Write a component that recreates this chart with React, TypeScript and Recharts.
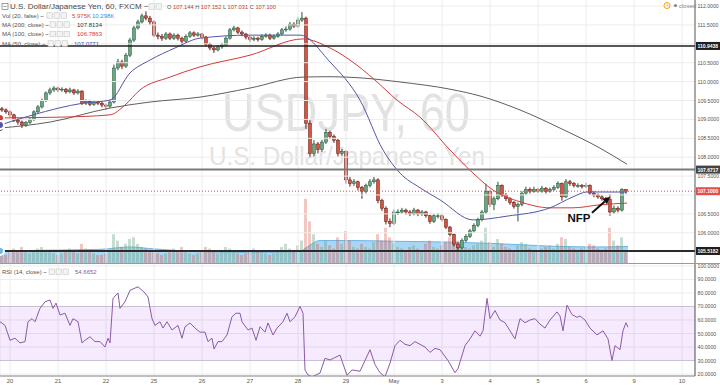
import React from 'react';
import {
  ComposedChart, LineChart, Bar, Line, Area, XAxis, YAxis, CartesianGrid,
  ReferenceLine, ReferenceArea, ReferenceDot, Cell,
} from 'recharts';

const FONT = '"Liberation Sans", Arial, sans-serif';

// ---- time axis (hours from chart start; one day = 24h) ----
const dayTicks = [5, 29, 53, 77, 101, 125, 149, 173, 197, 221, 245, 269, 293, 317, 341];
const dayLabels = ['20', '21', '22', '25', '26', '27', '28', '29', 'May', '3', '4', '5', '6', '9', '10'];

// ---- price candles (2-hour aggregation) ----
const firstOpen = 109.28;
const closes = [
  109.25, 109.20, 109.12, 108.98, 108.93, 108.85, 108.92, 109.00, 109.20, 109.33,
  109.50, 109.70, 109.78, 109.83, 109.78, 109.80, 109.73, 109.78, 109.70, 109.75,
  109.43, 109.48, 109.40, 109.46, 109.43, 109.38, 109.35, 109.46, 110.36, 110.52,
  110.41, 110.70, 111.10, 111.42, 111.58, 111.74, 111.68, 111.58, 111.23, 111.20,
  111.15, 111.26, 111.15, 111.23, 111.15, 111.07, 111.20, 111.29, 111.23, 111.26,
  111.18, 110.99, 110.89, 110.84, 110.92, 110.97, 111.15, 111.37, 111.42, 111.31,
  111.26, 111.18, 111.12, 111.15, 111.12, 111.20, 111.23, 111.15, 111.20, 111.26,
  111.37, 111.39, 111.52, 111.47, 111.63, 111.68, 108.90, 108.10, 108.35, 108.20,
  108.40, 108.65, 108.55, 108.45, 108.10, 108.15, 107.40, 107.30, 107.35, 107.20,
  107.10, 107.25, 107.35, 107.40, 106.85, 106.65, 106.30, 106.25, 106.55, 106.55,
  106.60, 106.55, 106.50, 106.60, 106.50, 106.55, 106.45, 106.30, 106.45, 106.45,
  106.35, 106.15, 105.95, 105.70, 105.60, 105.80, 105.90, 106.05, 106.20, 106.35,
  106.55, 107.10, 106.75, 106.90, 107.25, 107.00, 106.90, 106.80, 106.70, 106.75,
  107.05, 107.15, 107.10, 107.15, 107.10, 107.18, 107.10, 107.15, 107.20, 107.30,
  106.95, 107.35, 107.30, 107.25, 107.25, 107.22, 107.25, 107.05, 107.00, 106.95,
  106.90, 106.88, 106.55, 106.65, 106.60, 107.144, 107.10,
];
const highs = [
  109.33, 109.29, 109.24, 109.15, 109.03, 108.97, 108.96, 109.05, 109.24, 109.38,
  109.55, 109.74, 109.84, 109.88, 109.87, 109.85, 109.83, 109.84, 109.81, 109.80,
  109.77, 109.53, 109.52, 109.50, 109.49, 109.46, 109.42, 109.52, 110.45, 110.60,
  110.58, 110.76, 111.16, 111.48, 111.64, 111.80, 111.86, 111.74, 111.62, 111.30,
  111.26, 111.31, 111.30, 111.28, 111.27, 111.19, 111.25, 111.34, 111.33, 111.31,
  111.29, 111.21, 111.03, 110.93, 110.97, 111.03, 111.20, 111.42, 111.48, 111.45,
  111.35, 111.29, 111.22, 111.20, 111.19, 111.25, 111.28, 111.27, 111.25, 111.31,
  111.42, 111.46, 111.58, 111.57, 111.70, 111.84, 111.72, 108.98, 108.45, 108.40,
  108.46, 108.75, 108.70, 108.60, 108.48, 108.22, 108.18, 107.48, 107.42, 107.38,
  107.24, 107.30, 107.42, 107.48, 107.44, 106.90, 106.70, 106.38, 106.62, 106.62,
  106.66, 106.64, 106.60, 106.66, 106.63, 106.60, 106.58, 106.48, 106.50, 106.52,
  106.49, 106.38, 106.18, 105.98, 105.74, 105.85, 105.96, 106.10, 106.25, 106.40,
  106.60, 107.30, 107.14, 106.96, 107.35, 107.28, 107.05, 106.94, 106.84, 106.80,
  107.10, 107.22, 107.20, 107.22, 107.19, 107.24, 107.21, 107.20, 107.26, 107.36,
  107.33, 107.42, 107.40, 107.34, 107.31, 107.29, 107.32, 107.28, 107.10, 107.04,
  107.00, 106.95, 107.02, 106.72, 106.70, 107.18, 107.152,
];
const lows = [
  109.20, 109.15, 109.06, 108.93, 108.86, 108.77, 108.80, 108.88, 108.96, 109.16,
  109.29, 109.46, 109.65, 109.73, 109.72, 109.73, 109.68, 109.69, 109.65, 109.66,
  109.38, 109.38, 109.35, 109.36, 109.38, 109.32, 109.25, 109.31, 109.42, 110.30,
  110.33, 110.36, 110.65, 111.05, 111.38, 111.54, 111.62, 111.50, 111.18, 111.12,
  111.08, 111.10, 111.10, 111.10, 111.09, 110.97, 111.03, 111.16, 111.18, 111.19,
  111.12, 110.93, 110.83, 110.76, 110.80, 110.87, 110.93, 111.11, 111.33, 111.26,
  111.20, 111.12, 111.05, 111.07, 111.06, 111.08, 111.16, 111.10, 111.11, 111.16,
  111.22, 111.32, 111.35, 111.42, 111.43, 111.58, 108.75, 107.98, 108.02, 108.10,
  108.14, 108.35, 108.48, 108.38, 108.02, 108.04, 107.30, 107.22, 107.24, 107.12,
  106.90, 107.04, 107.20, 107.30, 106.78, 106.58, 106.22, 106.15, 106.20, 106.47,
  106.50, 106.48, 106.44, 106.46, 106.44, 106.45, 106.40, 106.24, 106.26, 106.38,
  106.30, 106.10, 105.90, 105.64, 105.52, 105.56, 105.75, 105.86, 106.00, 106.15,
  106.30, 106.50, 106.68, 106.60, 106.86, 106.95, 106.84, 106.74, 106.64, 106.30,
  106.70, 107.00, 107.04, 107.06, 107.05, 107.06, 107.04, 107.06, 107.11, 107.16,
  106.85, 106.92, 107.24, 107.20, 107.19, 107.17, 107.18, 107.00, 106.94, 106.90,
  106.85, 106.82, 106.45, 106.50, 106.54, 106.56, 107.031,
];
// volume (K)
const volumes = [
  6, 5, 7, 9, 8, 10, 7, 6, 8, 9,
  10, 8, 7, 6, 5, 6, 8, 9, 7, 6,
  12, 9, 7, 6, 5, 5, 6, 8, 18, 14,
  10, 12, 15, 16, 12, 10, 9, 7, 8, 6,
  5, 6, 7, 9, 8, 10, 7, 6, 5, 6,
  7, 10, 9, 8, 6, 7, 10, 9, 8, 6,
  5, 6, 7, 9, 8, 7, 6, 5, 6, 8,
  10, 12, 9, 8, 11, 14, 40, 26, 18, 12,
  10, 14, 11, 9, 16, 12, 20, 14, 10, 9,
  12, 10, 9, 13, 18, 14, 22, 16, 12, 10,
  9, 8, 10, 11, 9, 8, 12, 14, 10, 9,
  11, 13, 16, 15, 14, 12, 10, 9, 11, 12,
  14, 22, 13, 10, 15, 12, 10, 9, 8, 11,
  13, 12, 9, 8, 7, 9, 10, 11, 9, 12,
  16, 15, 10, 9, 8, 9, 10, 12, 11, 9,
  8, 9, 22, 14, 11, 16, 8,
];
const volMaT = [0, 25, 50, 65, 75, 100, 125, 150, 152.5, 160, 175, 200, 225, 250, 275, 300, 314];
const volMaV = [7.5, 8, 8.5, 10, 9, 7, 6.5, 7, 9, 14, 14, 13.5, 13, 12, 10.5, 10, 10.3];

// ---- moving averages ----
const ma200T = [0, 25, 55, 75, 100, 125, 151.5, 165, 180, 200, 225, 240, 260, 280, 300, 313.5];
const ma200V = [108.77, 108.93, 109.30, 109.46, 109.59, 109.83, 110.12, 110.13, 110.10, 109.99, 109.80, 109.62, 109.25, 108.77, 108.24, 107.8134];
const ma100T = [0, 30, 55, 62.5, 70, 85, 100, 125, 151.5, 165, 175, 187.5, 198.5, 210, 225, 236.5, 246.5, 260, 275, 286.5, 300, 313.5];
const ma100V = [109.04, 109.06, 109.12, 109.38, 109.78, 110.12, 110.39, 110.70, 111.13, 110.89, 110.57, 110.04, 109.51, 109.06, 108.19, 107.58, 107.13, 106.82, 106.66, 106.66, 106.74, 106.7863];
const ma50T = [0, 16.5, 41.5, 55, 65, 75, 87.5, 100, 125, 150, 165, 180, 191.5, 200, 210, 220, 236.5, 253.5, 275, 286.5, 293.5, 313.5];
const ma50V = [108.85, 109.12, 109.43, 109.51, 110.23, 110.57, 110.89, 111.15, 111.23, 111.23, 110.52, 109.51, 108.19, 107.58, 107.19, 106.87, 106.34, 106.44, 106.66, 106.95, 107.08, 107.0771];

// ---- RSI (14) ----
const rsiT = [
  0, 2.5, 5, 7.5, 10, 12.5, 14, 16, 17.5, 20, 22.5, 25, 26.5, 28, 30, 32.5, 35, 36.5, 39, 41,
  42.5, 45, 47.5, 50, 52.5, 54, 55, 56.5, 59, 60, 62.5, 65, 69, 71, 72.5, 74, 76, 77.5, 80, 81.5,
  83.5, 86, 89, 91, 92.5, 95, 97.5, 100, 102.5, 104, 106, 107, 109, 111, 113.5, 116, 118, 120, 121, 124,
  126, 128, 130, 132.5, 134, 136.5, 138.5, 141.5, 143.5, 145, 147.5, 150, 151.5, 152.5, 154, 156, 158, 160, 162.5, 165,
  170, 173.5, 176, 180, 182.5, 185, 187.5, 190, 192.5, 195, 197.5, 200, 202.5, 205, 207.5, 210, 212.5, 215, 217.5, 220,
  224, 227.5, 229, 232.5, 235, 237.5, 240, 241.5, 243.5, 245, 247.5, 250, 252.5, 255, 257.5, 260, 262.5, 265, 267.5, 270,
  272.5, 275, 278.5, 280, 281.5, 283.5, 286, 288.5, 290, 292.5, 295, 298.5, 301.5, 304, 306, 307.5, 310, 311.5, 313, 314,
];
const rsiV = [
  58.7, 56, 45, 46.5, 43, 44, 58.7, 61, 58.7, 68.6, 73.5, 74.8, 68.6, 72.5, 63.7, 65, 56, 61, 58.7, 43,
  45, 47.6, 44, 44, 40, 46.5, 43, 76, 80, 68.6, 73.5, 82, 84.6, 82, 80, 77, 61, 56, 58.7, 54,
  58.7, 52.6, 56, 46.5, 55, 57.8, 54, 51, 51, 44, 46.5, 38.5, 44, 44, 48.9, 62.4, 65, 65, 58.7, 52.6,
  54, 45, 55, 51, 57.8, 48.9, 54, 58.7, 65, 58.7, 62.4, 70, 65, 23, 19.3, 18, 19.3, 20.7, 31.6, 30.4,
  34, 19, 23, 22, 30, 38, 27, 21, 18, 28, 41, 45, 42, 41, 44, 42, 40, 36, 39, 38,
  30, 21, 24, 41, 46, 52, 48, 52, 76, 61, 67, 60, 58, 52, 46, 61, 58, 60, 61, 57,
  54, 60, 66, 63, 52, 71, 64, 62, 63, 60, 54, 49, 52, 46, 30, 41, 38, 52, 58, 54.6652,
];

const priceTicks = [106, 106.5, 107.5, 108, 108.5, 109, 109.5, 110, 110.5, 111.5, 112];
const priceGrid = [105.5, 106, 106.5, 107, 107.5, 108, 108.5, 109, 109.5, 110, 110.5, 111, 111.5, 112];
const rsiTicks = [20, 30, 40, 50, 60, 70, 80, 90, 100];

const candles = closes.map((c, i) => ({
  t: 2 * i + 1,
  o: i === 0 ? firstOpen : closes[i - 1],
  h: highs[i],
  l: lows[i],
  c,
  v: volumes[i],
}));
const volMaData = volMaT.map((t, i) => ({ t, m: volMaV[i] }));
const ma200Data = ma200T.map((t, i) => ({ t, m: ma200V[i] }));
const ma100Data = ma100T.map((t, i) => ({ t, m: ma100V[i] }));
const ma50Data = ma50T.map((t, i) => ({ t, m: ma50V[i] }));
const rsiData = rsiT.map((t, i) => ({ t, r: rsiV[i] }));

const UP = '#6ba583', UPB = '#225437', DN = '#d75442', DNB = '#5b1a13';

const Candle = (props: any) => {
  const { x, y, width, height, payload } = props;
  if (x == null || y == null) return null;
  const { o, h, l, c } = payload;
  const top = Math.min(y, y + height);
  const bottom = Math.max(y, y + height);
  const span = h - l || 1;
  const toY = (v: number) => top + ((h - v) / span) * (bottom - top);
  const up = c >= o;
  const cx = x + width / 2;
  const yo = toY(o), yc = toY(c);
  const bt = Math.min(yo, yc);
  const bh = Math.max(Math.abs(yo - yc), 0.8);
  return (
    <g>
      <line x1={cx} x2={cx} y1={top} y2={bottom} stroke={up ? UPB : DNB} strokeWidth={1} />
      <rect x={cx - 1.5} y={bt} width={3} height={bh} fill={up ? UP : DN} stroke={up ? UPB : DNB} strokeWidth={0.5} />
    </g>
  );
};

const PriceTick = (props: any) => {
  const { x, y, payload } = props;
  return (
    <text x={x + 2.5} y={y + 2} fontSize={5.2} fill="#555" fontFamily={FONT}>
      {Number(payload.value).toFixed(4)}
    </text>
  );
};

const TimeTick = (props: any) => {
  const { x, y, payload } = props;
  const idx = dayTicks.indexOf(payload.value);
  return (
    <text x={x} y={y + 7} fontSize={5.8} fill="#555" textAnchor="middle" fontFamily={FONT}>
      {idx >= 0 ? dayLabels[idx] : ''}
    </text>
  );
};

const LevelTag = (props: any) => {
  const { viewBox, text, bg } = props;
  if (!viewBox) return null;
  const x = viewBox.x + viewBox.width + 1;
  const y = viewBox.y;
  return (
    <g>
      <rect x={x} y={y - 4} width={30} height={8} fill={bg} />
      <text x={x + 1.5} y={y + 1.9} fontSize={5} fontWeight="bold" fill="#fff" fontFamily={FONT}>{text}</text>
    </g>
  );
};

const Arrow = (props: any) => {
  const { x1, y1, x2, y2 } = props;
  if (x1 == null) return null;
  const ang = Math.atan2(y2 - y1, x2 - x1);
  const L = 7, W = 3.5;
  const bx = x2 - L * Math.cos(ang), by = y2 - L * Math.sin(ang);
  const px = -Math.sin(ang) * W, py = Math.cos(ang) * W;
  return (
    <g>
      <line x1={x1} y1={y1} x2={bx} y2={by} stroke="#111" strokeWidth={2} />
      <polygon points={`${x2},${y2} ${bx + px},${by + py} ${bx - px},${by - py}`} fill="#111" />
    </g>
  );
};

const NfpText = (props: any) => {
  const { cx, cy } = props;
  if (cx == null) return null;
  return (
    <text x={cx} y={cy} fontSize={11.5} fontWeight="bold" fill="#111" textAnchor="middle" fontFamily={FONT}>NFP</text>
  );
};

const Box = ({ x, y }: any) => (
  <rect x={x} y={y} width={5.5} height={5.5} fill="#f3f3f3" stroke="#c6c6c6" strokeWidth={0.6} />
);

const boxes3 = (x: number, cy: number) => (
  <g>
    <Box x={x} y={cy - 2.75} />
    <Box x={x + 7} y={cy - 2.75} />
    <Box x={x + 14} y={cy - 2.75} />
  </g>
);

export default function App() {
  return (
    <div style={{ position: 'fixed', left: 0, top: 0, width: 720, height: 385, background: '#fff', overflow: 'hidden', fontFamily: FONT }}>
      {/* watermark */}
      <svg width={720} height={385} style={{ position: 'absolute', left: 0, top: 0 }}>
        <text x={222} y={131} fontSize={54} fill="#e2e2e2" textLength={248} lengthAdjust="spacingAndGlyphs" fontFamily={FONT}>USDJPY, 60</text>
        <text x={209} y={165} fontSize={25} fill="#e2e2e2" textLength={276} lengthAdjust="spacingAndGlyphs" fontFamily={FONT}>U.S. Dollar/Japanese Yen</text>
      </svg>

      {/* price pane */}
      <div style={{ position: 'absolute', left: 0, top: 0 }}>
        <ComposedChart width={720} height={263} data={candles} margin={{ top: 0, right: 0, bottom: 0, left: 0 }}>
          <XAxis xAxisId="main" dataKey="t" type="number" domain={[0, 347.5]} allowDataOverflow hide />
          <XAxis xAxisId="vol" dataKey="t" type="number" domain={[0, 347.5]} allowDataOverflow hide />
          <YAxis
            yAxisId="p" orientation="right" width={25} domain={[105.2, 112.16]} allowDataOverflow
            ticks={priceTicks} interval={0} tick={(p: any) => <PriceTick {...p} />}
            tickLine={false} tickSize={0} tickMargin={0} axisLine={{ stroke: '#555' }}
          />
          <YAxis yAxisId="v" hide domain={[0, 164]} allowDataOverflow />
          {priceGrid.map((g) => (
            <ReferenceLine key={'h' + g} xAxisId="main" yAxisId="p" y={g} stroke="#ececec" strokeWidth={1} />
          ))}
          {dayTicks.map((t) => (
            <ReferenceLine key={'v' + t} xAxisId="main" yAxisId="p" x={t} stroke="#ececec" strokeWidth={1} />
          ))}
          <Bar xAxisId="vol" yAxisId="v" dataKey="v" barSize={3} isAnimationActive={false}>
            {candles.map((d, i) => (
              <Cell key={i} fill={d.c >= d.o ? 'rgba(107,165,131,0.38)' : 'rgba(215,84,66,0.33)'} />
            ))}
          </Bar>
          <Area
            xAxisId="main" yAxisId="v" data={volMaData} dataKey="m" type="monotone"
            fill="#8cc8f0" fillOpacity={0.75} stroke="#6cb6e8" strokeWidth={1} isAnimationActive={false}
          />
          <Line xAxisId="main" yAxisId="p" data={ma200Data} dataKey="m" type="monotone" stroke="#5f5f5f" strokeWidth={1} dot={false} isAnimationActive={false} />
          <Line xAxisId="main" yAxisId="p" data={ma100Data} dataKey="m" type="monotone" stroke="#d23b3b" strokeWidth={1} dot={false} isAnimationActive={false} />
          <Line xAxisId="main" yAxisId="p" data={ma50Data} dataKey="m" type="monotone" stroke="#5257a8" strokeWidth={1} dot={false} isAnimationActive={false} />
          <Bar
            xAxisId="main" yAxisId="p" dataKey={(d: any) => [d.l, d.h]} barSize={3}
            shape={(p: any) => <Candle {...p} />} isAnimationActive={false}
          />
          <ReferenceLine xAxisId="main" yAxisId="p" y={110.9438} stroke="#1f1f1f" strokeWidth={1.5} label={<LevelTag text="110.9438" bg="#1f1f1f" />} />
          <ReferenceLine xAxisId="main" yAxisId="p" y={107.6717} stroke="#7a7a7a" strokeWidth={2} label={<LevelTag text="107.6717" bg="#444" />} />
          <ReferenceLine xAxisId="main" yAxisId="p" y={107.1} stroke="#e05050" strokeWidth={1} strokeDasharray="1 2" label={<LevelTag text="107.1000" bg="#e2504a" />} />
          <ReferenceLine xAxisId="main" yAxisId="p" y={105.5182} stroke="#2a2a2a" strokeWidth={2} label={<LevelTag text="105.5182" bg="#1f1f1f" />} />
          <ReferenceLine
            xAxisId="main" yAxisId="p"
            segment={[{ x: 296, y: 106.53 }, { x: 305, y: 106.95 }]}
            shape={(p: any) => <Arrow {...p} />}
          />
          <ReferenceDot xAxisId="main" yAxisId="p" x={289.5} y={106.29} r={0} shape={(p: any) => <NfpText {...p} />} />
        </ComposedChart>
      </div>

      {/* RSI pane */}
      <div style={{ position: 'absolute', left: 0, top: 263 }}>
        <LineChart width={720} height={122} data={rsiData} margin={{ top: 0, right: 0, bottom: 0, left: 0 }}>
          <CartesianGrid stroke="#ececec" />
          <ReferenceArea y1={30} y2={70} fill="#a020f0" fillOpacity={0.09} stroke="none" />
          <ReferenceLine y={70} stroke="#c9c0d2" strokeWidth={1} />
          <ReferenceLine y={30} stroke="#c9c0d2" strokeWidth={1} />
          <XAxis
            dataKey="t" type="number" domain={[0, 347.5]} allowDataOverflow ticks={dayTicks} interval={0}
            height={9} tick={(p: any) => <TimeTick {...p} />} tickLine={false} tickSize={0} tickMargin={0}
            axisLine={{ stroke: '#888' }}
          />
          <YAxis
            orientation="right" width={25} domain={[18.52, 102.22]} allowDataOverflow ticks={rsiTicks} interval={0}
            tick={(p: any) => <PriceTick {...p} />} tickLine={false} tickSize={0} tickMargin={0}
            axisLine={{ stroke: '#555' }}
          />
          <Line dataKey="r" type="linear" stroke="#8a5aa6" strokeWidth={1} dot={false} isAnimationActive={false} />
        </LineChart>
      </div>

      {/* legends / overlays */}
      <svg width={720} height={385} style={{ position: 'absolute', left: 0, top: 0, pointerEvents: 'none' }}>
        <line x1={0} x2={720} y1={263.5} y2={263.5} stroke="#9a9a9a" strokeWidth={1} />
        {/* title row */}
        <rect x={2} y={3.5} width={6} height={6} fill="none" stroke="#777" strokeWidth={0.7} />
        <line x1={3.5} x2={6.5} y1={6.5} y2={6.5} stroke="#777" strokeWidth={0.7} />
        <text x={10} y={9.4} fontSize={8} fill="#4a4a4a" fontFamily={FONT}>U.S. Dollar/Japanese Yen, 60, FXCM ~</text>
        <Box x={149} y={3.75} />
        <Box x={156} y={3.75} />
        <text x={167} y={8.6} fontSize={5.7} fill="#555" fontFamily={FONT}>
          <tspan>O </tspan><tspan fill="#c0392b">107.144</tspan>
          <tspan> H </tspan><tspan fill="#c0392b">107.152</tspan>
          <tspan> L </tspan><tspan fill="#c0392b">107.031</tspan>
          <tspan> C </tspan><tspan fill="#c0392b">107.100</tspan>
        </text>
        {/* Vol */}
        <text x={2} y={17.6} fontSize={6} fill="#555" fontFamily={FONT}>Vol (20, false) ~</text>
        {boxes3(47, 15.5)}
        <text x={72} y={17.6} fontSize={6} fill="#d0493c" fontFamily={FONT}>5.975K</text>
        <text x={92} y={17.6} fontSize={6} fill="#2196f3" fontFamily={FONT}>10.298K</text>
        {/* MAs */}
        <text x={2} y={26.6} fontSize={6} fill="#555" fontFamily={FONT}>MA (200, close) ~</text>
        {boxes3(50, 24.5)}
        <text x={77} y={26.6} fontSize={6} fill="#333" fontFamily={FONT}>107.8134</text>
        <text x={2} y={36.1} fontSize={6} fill="#555" fontFamily={FONT}>MA (100, close) ~</text>
        {boxes3(50, 34)}
        <text x={77} y={36.1} fontSize={6} fill="#e03535" fontFamily={FONT}>106.7863</text>
        <text x={2} y={45.6} fontSize={6} fill="#555" fontFamily={FONT}>MA (50, close) ~</text>
        {boxes3(48, 43.5)}
        <text x={74} y={45.6} fontSize={6} fill="#4b4fa3" fontFamily={FONT}>107.0771</text>
        {/* RSI legend */}
        <text x={2} y={273.8} fontSize={6} fill="#555" fontFamily={FONT}>RSI (14, close) ~</text>
        {boxes3(49, 271.7)}
        <text x={75} y={273.8} fontSize={6} fill="#8a5aa6" fontFamily={FONT}>54.6652</text>
        {/* market status */}
        <circle cx={667} cy={5.5} r={3} fill="none" stroke="#f39c12" strokeWidth={1} />
        <line x1={667} x2={667} y1={3.8} y2={5.6} stroke="#f39c12" strokeWidth={0.7} />
        <line x1={667} x2={668.4} y1={5.6} y2={5.6} stroke="#f39c12" strokeWidth={0.7} />
        <circle cx={675.5} cy={5.5} r={1.6} fill="#888" />
        <text x={679} y={7.6} fontSize={6} fill="#888" fontFamily={FONT}>closed</text>
      </svg>
    </div>
  );
}
